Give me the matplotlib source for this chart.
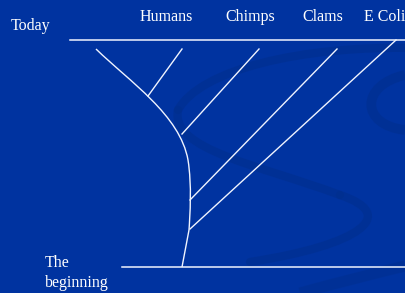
import matplotlib
matplotlib.use("Agg")
import matplotlib.pyplot as plt
from matplotlib.path import Path
from matplotlib.patches import PathPatch

# tree (pixel-ish units, y going down)
species = ['Humans', 'Chimps', 'Clams', 'E Coli']
label_x = [166, 250, 323, 364]
tip_x = [182, 259, 337, 396]
tip_y = [49, 49, 49, 40]
join_x = [148, 182, 190, 190]
join_y = [96, 134, 200, 229]

# main trunk (bezier control points)
trunk_x = [96, 130, 180, 188, 192, 190, 189, 182]
trunk_y = [49, 82, 115, 160, 185, 215, 230, 267]

today_y = 39.5
start_y = 267

bg = '#0033a0'
dark = '#002f8e'
line_col = '#f0f4ff'

fig = plt.figure(figsize=(4.05, 2.93), dpi=100)
fig.patch.set_facecolor(bg)
ax = fig.add_axes([0, 0, 1, 1])
ax.set_facecolor(bg)
ax.set_xlim(0, 405)
ax.set_ylim(293, 0)
ax.axis('off')

c4 = [Path.MOVETO, Path.CURVE4, Path.CURVE4, Path.CURVE4]

# faint swirl in the background
swirl = [
    [(420, 48), (300, 45), (200, 70), (178, 110)],
    [(178, 110), (170, 150), (260, 165), (340, 195)],
    [(340, 195), (400, 215), (360, 245), (250, 262)],
]
for seg in swirl:
    ax.add_patch(PathPatch(Path(seg, c4), fill=False, edgecolor=dark,
                           lw=6, alpha=0.6, capstyle='round'))
ax.add_patch(PathPatch(Path([(405, 75), (360, 85), (360, 125), (405, 130)], c4),
                       fill=False, edgecolor=dark, lw=7, alpha=0.6))
ax.add_patch(PathPatch(Path([(300, 293), (340, 282), (380, 272), (405, 266)], c4),
                       fill=False, edgecolor=dark, lw=8, alpha=0.5))

# time lines
ax.plot([70, 405], [today_y, today_y], color=line_col, lw=1.1)
ax.plot([122, 405], [start_y, start_y], color=line_col, lw=1.1)

# trunk
codes = [Path.MOVETO] + [Path.CURVE4] * 6 + [Path.LINETO]
trunk = Path(list(zip(trunk_x, trunk_y)), codes)
ax.add_patch(PathPatch(trunk, fill=False, edgecolor=line_col, lw=1.0))

# branches
for tx, ty, jx, jy in zip(tip_x, tip_y, join_x, join_y):
    ax.plot([tx, jx], [ty, jy], color=line_col, lw=1.0)

font = dict(family=['Liberation Serif', 'DejaVu Serif'], color='white', fontsize=11.5)
for name, lx in zip(species, label_x):
    ha = 'left' if name == 'E Coli' else 'center'
    ax.text(lx, 17, name, ha=ha, va='center', **font)
ax.text(11, 26, 'Today', ha='left', va='center', **font)
ax.text(45, 263, 'The', ha='left', va='center', **font)
ax.text(45, 283, 'beginning', ha='left', va='center', **font)

fig.savefig('out.png', dpi=100, facecolor=bg)
